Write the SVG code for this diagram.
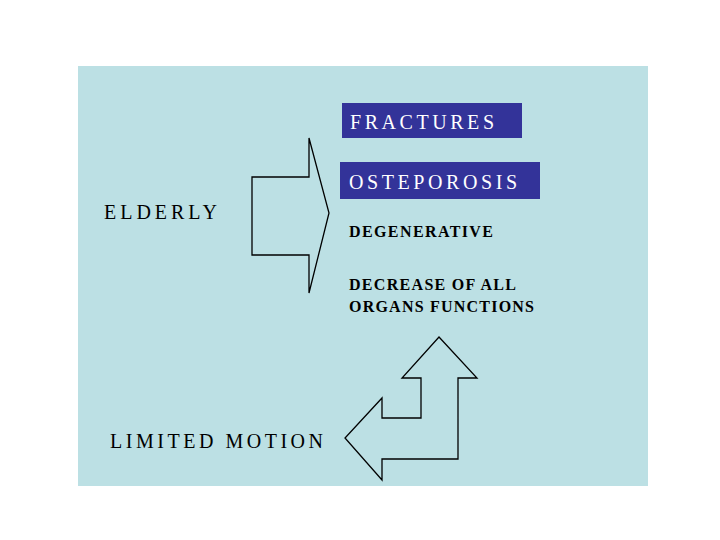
<svg xmlns="http://www.w3.org/2000/svg" width="720" height="540" viewBox="0 0 720 540">
<style>
text{font-family:"Liberation Serif","Times New Roman","DejaVu Serif",serif}
.t{font-size:20px;fill:#000}
.w{font-size:20px;fill:#fff}
.b{font-size:16px;font-weight:bold;fill:#000}
.a{fill:none;stroke:#000;stroke-width:1.3}
</style>
<rect width="720" height="540" fill="#fff"/>
<rect x="78" y="66" width="570" height="420" fill="#bce0e4"/>
<g id="fractures"><rect x="342" y="103" width="180" height="35" fill="#333399"/><text class="w" x="350" y="129" textLength="144" lengthAdjust="spacing">FRACTURES</text></g>
<g id="osteporosis"><rect x="340" y="162" width="200" height="37" fill="#333399"/><text class="w" x="349" y="189" textLength="168" lengthAdjust="spacing">OSTEPOROSIS</text></g>
<g id="degenerative"><text class="b" x="349" y="237" textLength="144" lengthAdjust="spacing">DEGENERATIVE</text></g>
<g id="decrease"><text class="b" x="349" y="290" textLength="167" lengthAdjust="spacing">DECREASE OF ALL</text><text class="b" x="349" y="312" textLength="185" lengthAdjust="spacing">ORGANS FUNCTIONS</text></g>
<g id="elderly"><text class="t" x="104" y="219" textLength="113" lengthAdjust="spacing">ELDERLY</text></g>
<g id="limited"><text class="t" x="110" y="448" textLength="213" lengthAdjust="spacing">LIMITED MOTION</text></g>
<g id="connectors">
<polygon class="a" points="252,177 309,177 309,138 329,213 309,293 309,255 252,255"/>
<polygon class="a" points="439,337 477,378 458,378 458,459 382,459 382,480 345,438 382,398 382,418 421,418 421,378 402,378"/>
</g>
</svg>
